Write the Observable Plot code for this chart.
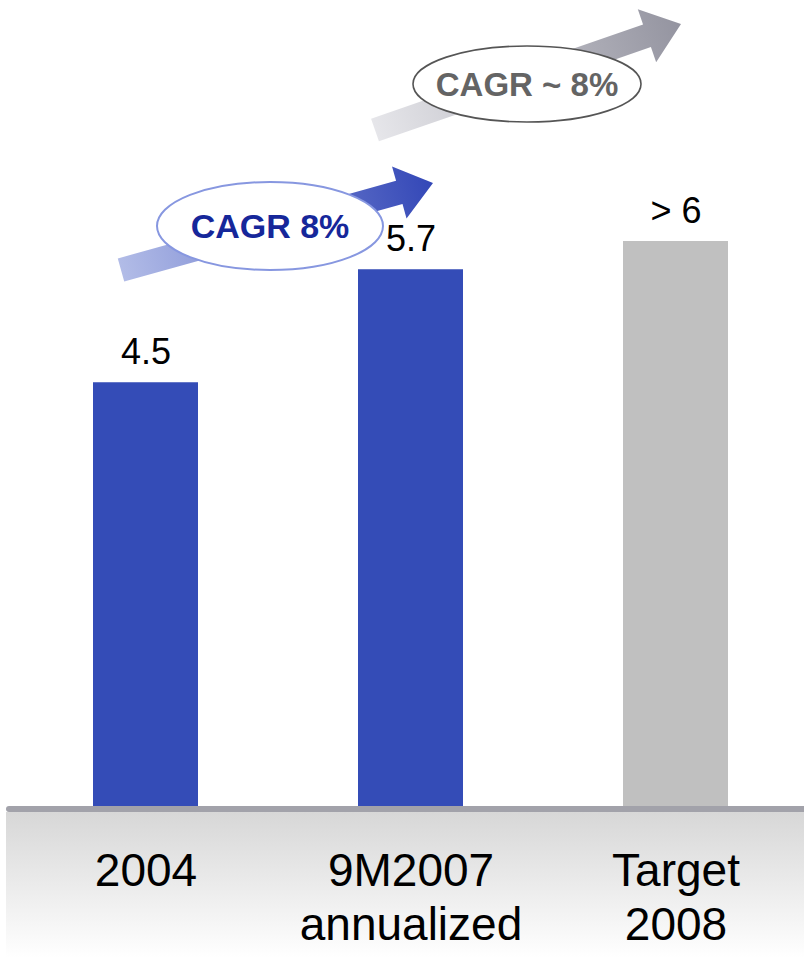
<!DOCTYPE html>
<html><head><meta charset="utf-8">
<script src="https://cdn.jsdelivr.net/npm/d3@7"></script>
<script src="https://cdn.jsdelivr.net/npm/@observablehq/plot@0.6"></script>
<style>html,body{margin:0;padding:0;background:#fff;} #chart svg{display:block;}</style>
</head><body><div id="chart"></div>
<script>
// ---- data ----
const categories = ["2004", "9M2007 annualized", "Target 2008"];
const axisLabels = ["2004", "9M2007\nannualized", "Target\n2008"];
const values = [4.5, 5.7, 6];
const valueLabels = ["4.5", "5.7", "> 6"];
const barColors = ["#344cb7", "#344cb7", "#c0c0c0"];
const growthLabels = ["CAGR 8%", "CAGR ~ 8%"];

const rows = categories.map((c, i) => ({
  category: c, value: values[i], label: valueLabels[i], axis: axisLabels[i], color: barColors[i]
}));

const W = 804, H = 962, base = 806;
const font = "'Liberation Sans', Arial, Helvetica, sans-serif";

const svg = Plot.plot({
  width: W, height: H,
  marginTop: 0, marginBottom: H - base, marginLeft: 0, marginRight: 0,
  style: {fontFamily: font, background: "white", color: "black"},
  x: {domain: categories, range: [0, 821], paddingInner: 0.605, paddingOuter: 0.346, axis: null},
  y: {domain: [0, 6], range: [base, 241], axis: null},
  color: {type: "identity"},
  marks: [
    Plot.barY(rows, {x: "category", y: "value", fill: "color", inset: 0}),
    Plot.text(rows, {x: "category", y: "value", text: "label", dy: -19, lineAnchor: "bottom",
      fontSize: 36, fill: "black"}),
    Plot.text(rows, {x: "category", frameAnchor: "bottom", text: "axis", lineAnchor: "top",
      dy: 41, fontSize: 46, lineHeight: 54 / 46, fill: "black"})
  ]
});

const s = d3.select(svg);
s.attr("overflow", "visible");
const defs = s.append("defs");
const bandGrad = defs.append("linearGradient").attr("id", "bandGrad")
  .attr("x1", 0).attr("y1", 0).attr("x2", 0).attr("y2", 1);
bandGrad.append("stop").attr("offset", 0).attr("stop-color", "#d7d7d7");
bandGrad.append("stop").attr("offset", 1).attr("stop-color", "#ffffff");

// bottom band behind marks
s.insert("rect", "g").attr("x", 6).attr("y", base + 6).attr("width", W - 6).attr("height", H - base - 10)
  .attr("fill", "url(#bandGrad)");

// baseline
s.append("line").attr("x1", 9).attr("x2", W + 4).attr("y1", base + 3).attr("y2", base + 3)
  .attr("stroke", "#a2a2aa").attr("stroke-width", 6).attr("stroke-linecap", "round");

// growth arrows
function arrow(id, tail, tip, c0, c1, w, Hh, hl) {
  const dx = tip[0] - tail[0], dy = tip[1] - tail[1];
  const L = Math.hypot(dx, dy), ang = Math.atan2(dy, dx) * 180 / Math.PI;
  const g = defs.append("linearGradient").attr("id", id).attr("gradientUnits", "userSpaceOnUse")
    .attr("x1", 0).attr("y1", 0).attr("x2", L).attr("y2", 0);
  g.append("stop").attr("offset", 0).attr("stop-color", c0);
  g.append("stop").attr("offset", 1).attr("stop-color", c1);
  const pts = [[0, -w], [L - hl, -w], [L - hl, -Hh], [L, 0], [L - hl, Hh], [L - hl, w], [0, w]];
  s.append("polygon").attr("points", pts.map(p => p.join(",")).join(" "))
    .attr("transform", `translate(${tail[0]},${tail[1]}) rotate(${ang})`)
    .attr("fill", `url(#${id})`);
}
function bubble(cx, cy, rx, ry, stroke, sw, text, color, fs) {
  s.append("ellipse").attr("cx", cx).attr("cy", cy).attr("rx", rx).attr("ry", ry)
    .attr("fill", "white").attr("stroke", stroke).attr("stroke-width", sw);
  s.append("text").attr("x", cx).attr("y", cy).attr("dy", "0.36em").attr("text-anchor", "middle")
    .attr("font-family", font).attr("font-weight", "bold").attr("font-size", fs)
    .attr("fill", color).text(text);
}
arrow("a1", [121, 270], [433, 183], "#b2bce7", "#3347b7", 12, 27, 35);
bubble(270, 226, 113, 44, "#8797e0", 2, growthLabels[0], "#16279a", 34);
arrow("a2", [375, 130], [681, 24], "#e6e6ea", "#9494a0", 12, 28, 36);
bubble(527, 84, 114, 38, "#555555", 1.6, growthLabels[1], "#646464", 33);

document.getElementById("chart").appendChild(svg);
</script>
</body></html>
